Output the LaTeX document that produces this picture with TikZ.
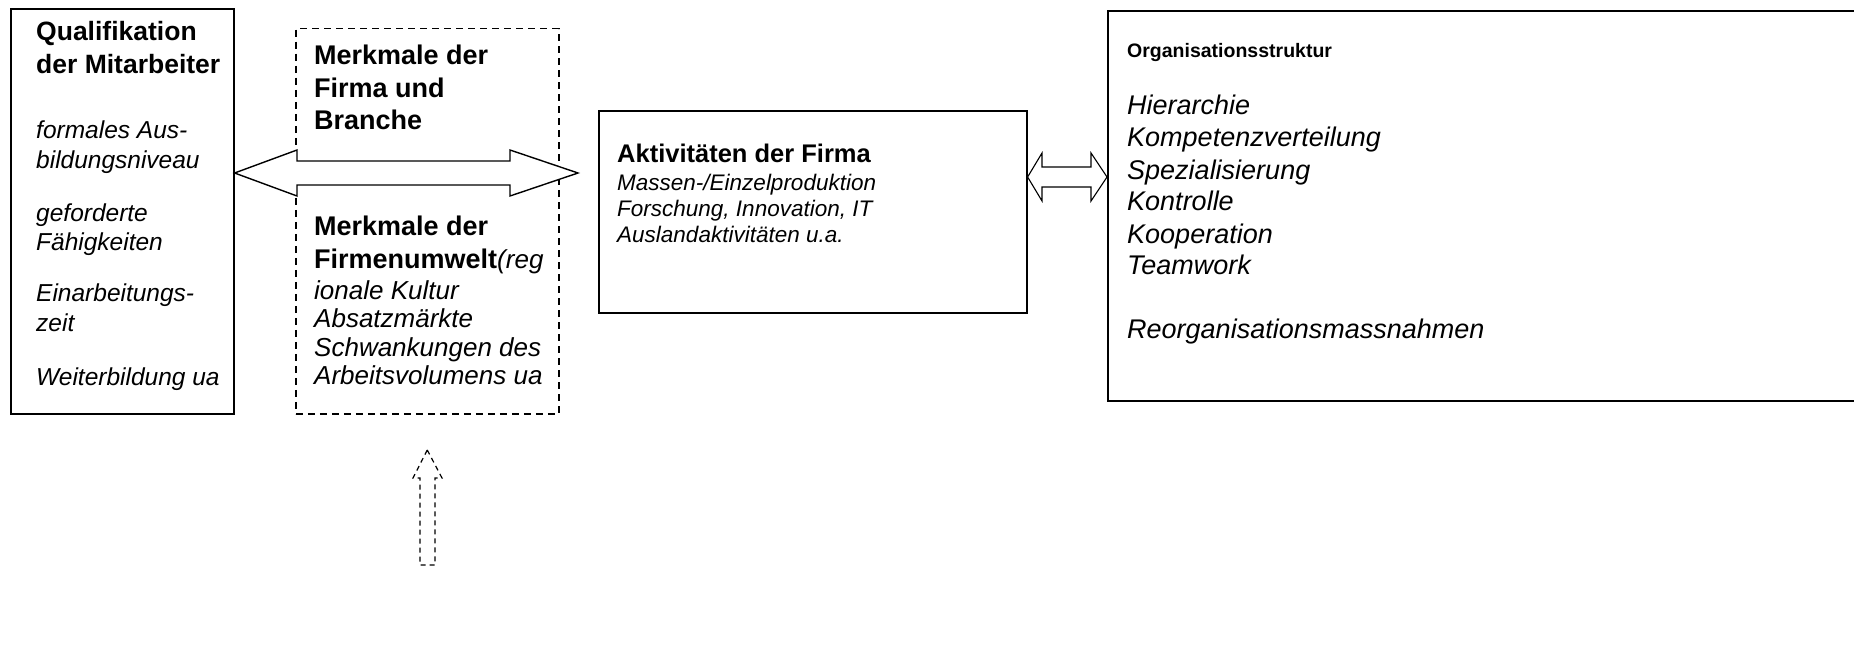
\documentclass[tikz,border=0pt]{standalone}
\usepackage{fontspec}
\setmainfont{Liberation Sans}
\begin{document}
\begin{tikzpicture}[x=1pt,y=-1pt,
  box/.style={draw, line width=1.6pt, inner sep=0, anchor=north west},
  dbox/.style={draw, line width=1.5pt, dash pattern=on 7pt off 5pt, inner sep=0, anchor=north west},
  txt/.style={anchor=base west, inner sep=0},
  bigarrow/.style={draw, line width=1.4pt, fill=white, line join=miter},
  dasharrow/.style={draw, line width=1.2pt, dash pattern=on 5pt off 4pt, fill=white}]
\useasboundingbox (0,0) rectangle (1854,669);

% boxes
\node[box, minimum width=223pt, minimum height=405pt] (qual) at (10,8) {};
\node[dbox, minimum width=263pt, minimum height=385pt] (merk) at (295,28) {};
\node[box, minimum width=428pt, minimum height=202pt] (akt) at (598,110) {};
\node[box, minimum width=780pt, minimum height=390pt] (org) at (1107,10) {};

% texts
\node[txt] (qualtxt) at (36,41) {\parbox[t]{220pt}{\raggedright\fontsize{26.5}{30}\selectfont
\textbf{Qualifikation}\\[3pt]
\textbf{der Mitarbeiter}\\[35pt]
{\fontsize{24.5}{30}\selectfont\itshape formales Aus-}\\
{\fontsize{24.5}{30}\selectfont\itshape bildungsniveau}\\[22pt]
{\fontsize{24.5}{30}\selectfont\itshape geforderte}\\
{\fontsize{24.5}{30}\selectfont\itshape Fähigkeiten}\\[20pt]
{\fontsize{24.5}{30}\selectfont\itshape Einarbeitungs-}\\[1pt]
{\fontsize{24.5}{30}\selectfont\itshape zeit}\\[23pt]
{\fontsize{24.5}{30}\selectfont\itshape Weiterbildung ua}}};

\node[txt] (merktxt1) at (314,64) {\parbox[t]{235pt}{\raggedright\fontsize{27}{30}\selectfont\bfseries
Merkmale der\\[3pt]
Firma und\\[3pt]
Branche}};

\node[txt] (merktxt2) at (314,235) {\parbox[t]{240pt}{\raggedright\fontsize{27}{30}\selectfont
\textbf{Merkmale der}\\[3pt]
\textbf{Firmenumwelt}{\fontsize{26}{30}\selectfont\itshape(reg}\\[1pt]
{\fontsize{26}{30}\selectfont\itshape ionale Kultur}\\[-2pt]
{\fontsize{26}{30}\selectfont\itshape Absatzmärkte}\\[-1pt]
{\fontsize{26}{30}\selectfont\itshape Schwankungen des}\\[-2pt]
{\fontsize{26}{30}\selectfont\itshape Arbeitsvolumens ua}}};

\node[txt] (akttxt) at (617,162) {\parbox[t]{400pt}{\raggedright\fontsize{22.5}{26}\selectfont
{\fontsize{25.5}{26}\selectfont\bfseries Aktivitäten der Firma}\\[2pt]
\textit{Massen-/Einzelproduktion}\\
\textit{Forschung, Innovation, IT}\\
\textit{Auslandaktivitäten u.a.}}};

\node[txt] (orgtxt) at (1127,58) {\parbox[t]{600pt}{\raggedright\fontsize{27}{32}\selectfont
{\fontsize{19.5}{32}\selectfont\bfseries Organisationsstruktur}\\[24pt]
\textit{Hierarchie}\\[1pt]
\textit{Kompetenzverteilung}\\
\textit{Spezialisierung}\\
\textit{Kontrolle}\\
\textit{Kooperation}\\[-1pt]
\textit{Teamwork}\\[32pt]
\textit{Reorganisationsmassnahmen}}};

% big double arrow between qualification box and activities
\coordinate (bL) at (qual.east |- 0,173);
\coordinate (bR) at (578,173);
\draw[bigarrow] (bL) -- (297,150) -- (297,161) -- (510,161) -- (510,150) -- (bR)
  -- (510,196) -- (510,185) -- (297,185) -- (297,196) -- cycle;

% small double arrow between activities and organisation
\coordinate (sL) at (akt.east |- 0,177);
\coordinate (sR) at (org.west |- 0,177);
\draw[bigarrow, line width=1.1pt] (sL) -- (1042,153) -- (1042,167) -- (1091,167) -- (1091,153) -- (sR)
  -- (1091,201) -- (1091,187) -- (1042,187) -- (1042,201) -- cycle;

% dashed upward arrow
\coordinate (uT) at (merk.south |- 0,450);
\draw[dasharrow] (uT) -- (442,478) -- (435,478) -- (435,565) -- (420,565) -- (420,478) -- (413,478) -- cycle;
\end{tikzpicture}
\end{document}
